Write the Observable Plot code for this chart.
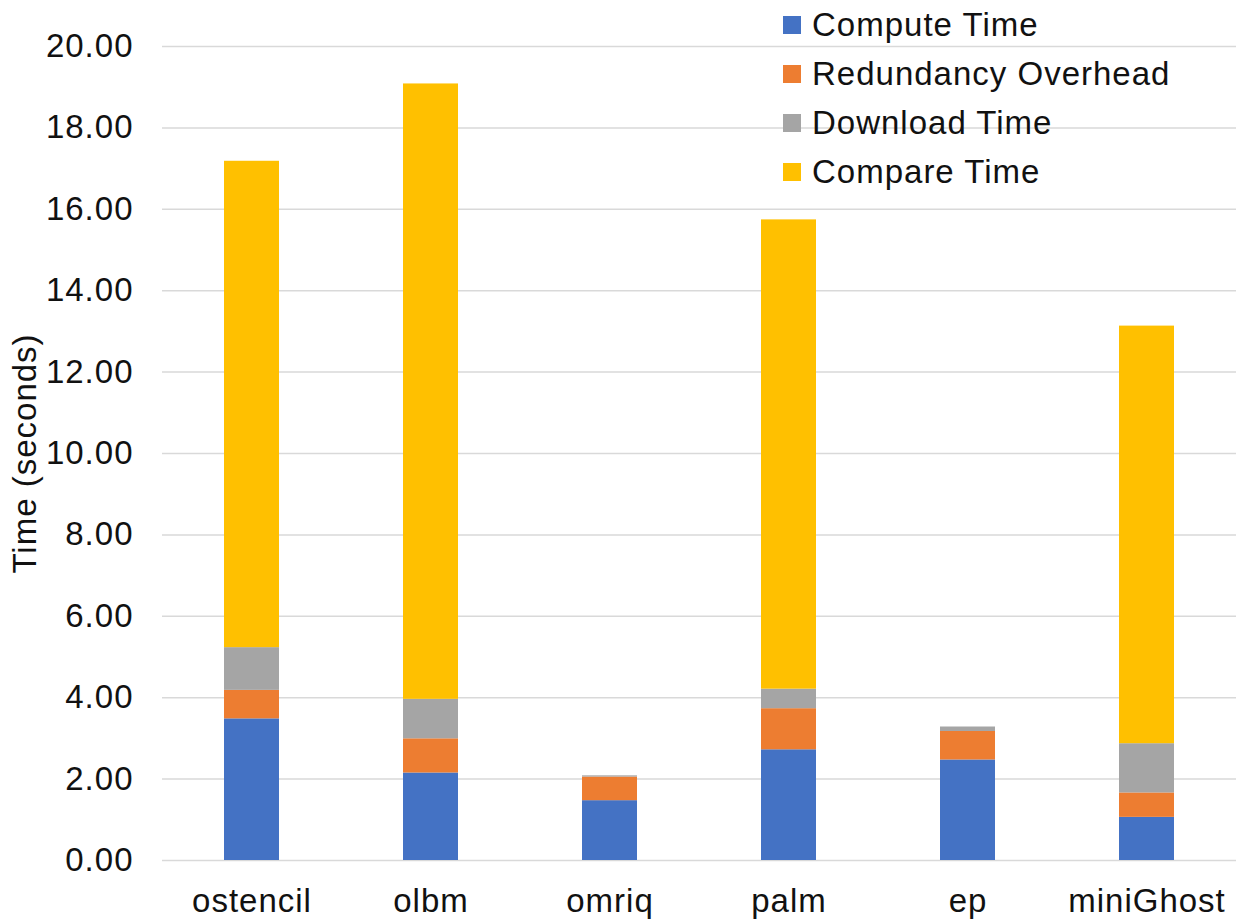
<!DOCTYPE html>
<html>
<head>
<meta charset="utf-8">
<script src="https://cdn.jsdelivr.net/npm/d3@7"></script>
<script src="https://cdn.jsdelivr.net/npm/@observablehq/plot@0.6"></script>
<style>
  html, body { margin: 0; padding: 0; background: #fff; }
  #wrap { position: relative; width: 1236px; height: 922px; font-family: "Liberation Sans", Arial, sans-serif; }
  #legend { position: absolute; left: 783px; top: 0; }
  .row { display: flex; align-items: center; height: 49px; font-size: 33px; letter-spacing: 1px; color: #111; white-space: nowrap; }
  .sw { width: 18px; height: 18px; margin-right: 11px; flex: none; }
</style>
</head>
<body>
<div id="wrap">
  <div id="chart"></div>
  <div id="legend"></div>
</div>
<script>
// Benchmarks along the x axis
const benchmarks = ["ostencil", "olbm", "omriq", "palm", "ep", "miniGhost"];

// Stacked components (seconds), bottom to top
const series = ["Compute Time", "Redundancy Overhead", "Download Time", "Compare Time"];
const computeTime        = [3.48, 2.15, 1.47, 2.72, 2.47, 1.06];
const redundancyOverhead = [0.70, 0.84, 0.58, 1.01, 0.70, 0.60];
const downloadTime       = [1.05, 0.97, 0.03, 0.48, 0.11, 1.21];
const compareTime        = [11.95, 15.12, 0.00, 11.53, 0.00, 10.26];

const colors = ["#4472C4", "#ED7D31", "#A5A5A5", "#FFC000"];
const yTicks = [0, 2, 4, 6, 8, 10, 12, 14, 16, 18, 20];

// Long-format rows for the stacked bars
const columns = [computeTime, redundancyOverhead, downloadTime, compareTime];
const rows = [];
series.forEach((s, si) => {
  benchmarks.forEach((b, bi) => {
    rows.push({benchmark: b, series: s, value: columns[si][bi]});
  });
});

const font = "'Liberation Sans', Arial, sans-serif";

const chart = Plot.plot({
  width: 1236,
  height: 922,
  marginLeft: 162,
  marginRight: 0,
  marginTop: 46,
  marginBottom: 62,
  style: {fontFamily: font, fontSize: "33px", letterSpacing: "1px", color: "#111", background: "#fff"},
  x: {domain: benchmarks, paddingInner: 0.69, paddingOuter: 0.345, label: null},
  y: {domain: [0, 20], label: null},
  color: {domain: series, range: colors},
  marks: [
    Plot.gridY(yTicks, {stroke: "#d9d9d9", strokeOpacity: 1, strokeWidth: 1.5}),
    Plot.barY(rows, {x: "benchmark", y: "value", fill: "series", order: series}),
    Plot.axisX({tickSize: 0, tickPadding: 28, fontSize: 33, label: null}),
    Plot.axisY(yTicks, {
      tickSize: 0, tickPadding: 29, fontSize: 33,
      tickFormat: d3.format(".2f"),
      label: "Time (seconds)", labelAnchor: "center", labelArrow: "none", labelOffset: 150
    })
  ]
});
document.getElementById("chart").appendChild(chart);

// Legend drawn over the upper-right of the plot
const legend = document.getElementById("legend");
series.forEach((s, i) => {
  const row = document.createElement("div");
  row.className = "row";
  const sw = document.createElement("span");
  sw.className = "sw";
  sw.style.background = colors[i];
  const label = document.createElement("span");
  label.textContent = s;
  row.appendChild(sw);
  row.appendChild(label);
  legend.appendChild(row);
});
</script>
</body>
</html>
